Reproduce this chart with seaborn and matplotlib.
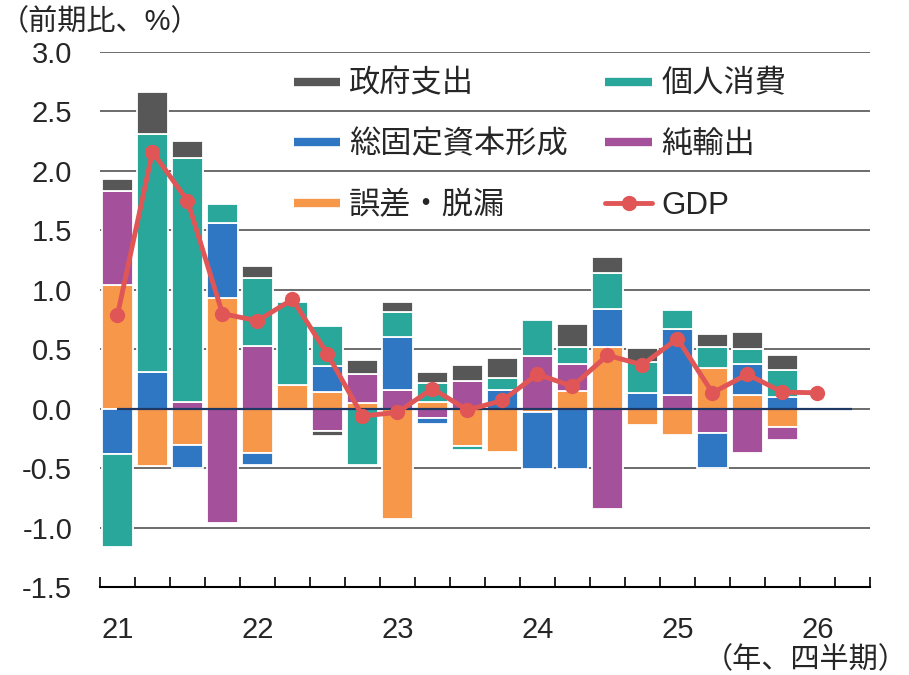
import numpy as np
import matplotlib
matplotlib.use("Agg")
import matplotlib.pyplot as plt
from matplotlib.lines import Line2D
import seaborn as sns

# quarterly slots on the x axis (21Q1 .. 26Q2)
quarters = [f"{y}Q{q}" for y in range(21, 27) for q in range(1, 5)][:22]
year_labels = ["21", "22", "23", "24", "25", "26"]

# contributions to GDP growth (% pt), 21Q1 - 25Q4
errors      = [1.04, -0.48, -0.30, 0.93, -0.37, 0.20, 0.14, 0.045, -0.93, 0.056,
               -0.31, -0.36, -0.03, 0.146, 0.52, -0.14, -0.22, 0.345, 0.12, -0.15]
net_exports = [0.79, 0.0, 0.06, -0.96, 0.53, 0.0, -0.19, 0.245, 0.16, -0.08,
               0.235, 0.0, 0.44, 0.23, -0.84, 0.0, 0.12, -0.20, -0.37, -0.11]
investment  = [-0.38, 0.31, -0.20, 0.63, -0.10, 0.0, 0.22, 0.0, 0.44, -0.05,
               0.0, 0.16, -0.48, -0.51, 0.32, 0.135, 0.55, -0.30, 0.26, 0.10]
consumption = [-0.78, 2.00, 2.05, 0.16, 0.57, 0.70, 0.34, -0.47, 0.21, 0.165,
               -0.035, 0.10, 0.31, 0.145, 0.30, 0.255, 0.165, 0.175, 0.125, 0.23]
government  = [0.10, 0.35, 0.14, 0.0, 0.10, 0.0, -0.04, 0.12, 0.09, 0.09,
               0.13, 0.17, 0.0, 0.19, 0.14, 0.12, 0.0, 0.11, 0.145, 0.12]
# real GDP q/q, 21Q1 - 26Q1
gdp = [0.79, 2.16, 1.75, 0.80, 0.74, 0.92, 0.46, -0.06, -0.03, 0.17, -0.01,
       0.07, 0.29, 0.19, 0.45, 0.37, 0.59, 0.135, 0.29, 0.14, 0.135]

series = [
    ("誤差・脱漏", errors, "#f7974a"),
    ("純輸出", net_exports, "#a4509a"),
    ("総固定資本形成", investment, "#2f77c2"),
    ("個人消費", consumption, "#2aa79b"),
    ("政府支出", government, "#575757"),
]
gdp_color = "#e05656"

sns.set_theme(style="white")
plt.rcParams['font.family'] = ['Liberation Sans', 'Noto Sans CJK JP']

fig = plt.figure(figsize=(9.09, 6.75), dpi=100)
ax = fig.add_axes([0.110, 0.130, 0.847, 0.793])

n = len(errors)
x = np.arange(n)
pos_base = np.zeros(n)
neg_base = np.zeros(n)
for name, vals, color in series:
    v = np.array(vals, dtype=float)
    base = np.where(v >= 0, pos_base, neg_base)
    m = v != 0
    ax.bar(x[m], v[m], bottom=base[m], width=0.88, color=color,
           edgecolor="white", linewidth=1.3, zorder=2)
    pos_base += np.clip(v, 0, None)
    neg_base += np.clip(v, None, 0)

# zero line
ax.hlines(0, 0, len(quarters) - 1, color="#1f3864", lw=1.6, zorder=3)

sns.lineplot(x=np.arange(len(gdp)), y=gdp, color=gdp_color, linewidth=3.5,
             marker="o", markersize=11, markeredgewidth=0, ax=ax, zorder=4)

ax.set_xlim(-0.5, len(quarters) - 0.5)
ax.set_ylim(-1.5, 3.0)
ax.set_yticks(np.arange(-1.5, 3.01, 0.5))
ax.set_yticklabels([f"{t:.1f}" for t in np.arange(-1.5, 3.01, 0.5)])
ax.yaxis.grid(True, color="#444444", lw=1.1)
ax.set_axisbelow(True)
for s in ["left", "right", "top"]:
    ax.spines[s].set_visible(False)
ax.spines["bottom"].set_color("black")
ax.spines["bottom"].set_linewidth(1.5)

# boundary ticks between quarters, year labels at Q1
ax.set_xticks(np.arange(-0.5, len(quarters), 1.0))
ax.set_xticklabels([])
ax.set_xticks(np.arange(0, len(quarters), 4), minor=True)
ax.set_xticklabels(year_labels, minor=True)
ax.tick_params(axis="x", which="major", direction="in", length=7, width=1.2,
               color="black", bottom=True)
ax.tick_params(axis="x", which="minor", length=0, pad=21, labelsize=21)
ax.tick_params(axis="y", length=0, pad=20, labelsize=21)

handles = [
    Line2D([0], [0], color="#575757", lw=6, solid_capstyle="butt"),
    Line2D([0], [0], color="#2f77c2", lw=6, solid_capstyle="butt"),
    Line2D([0], [0], color="#f7974a", lw=6, solid_capstyle="butt"),
    Line2D([0], [0], color="#2aa79b", lw=6, solid_capstyle="butt"),
    Line2D([0], [0], color="#a4509a", lw=6, solid_capstyle="butt"),
    Line2D([0], [0], color=gdp_color, lw=3.5, marker="o", markersize=11,
           markeredgewidth=0),
]
labels = ["政府支出", "総固定資本形成", "誤差・脱漏", "個人消費", "純輸出", "GDP"]
fig.legend(handles, labels, ncol=2, loc="upper left",
           bbox_to_anchor=(0.323, 0.897), frameon=False, fontsize=22.5,
           handlelength=1.5, handletextpad=0.28, columnspacing=1.2,
           labelspacing=0.98, borderpad=0, borderaxespad=0)

fig.text(0.0, 1 - 22 / 675, "（前期比、%）", fontsize=21, va="center", ha="left")
fig.text(0.999, 1 - 660 / 675, "（年、四半期）", fontsize=21, va="center", ha="right")

fig.savefig("out.png", dpi=100, facecolor="white")
